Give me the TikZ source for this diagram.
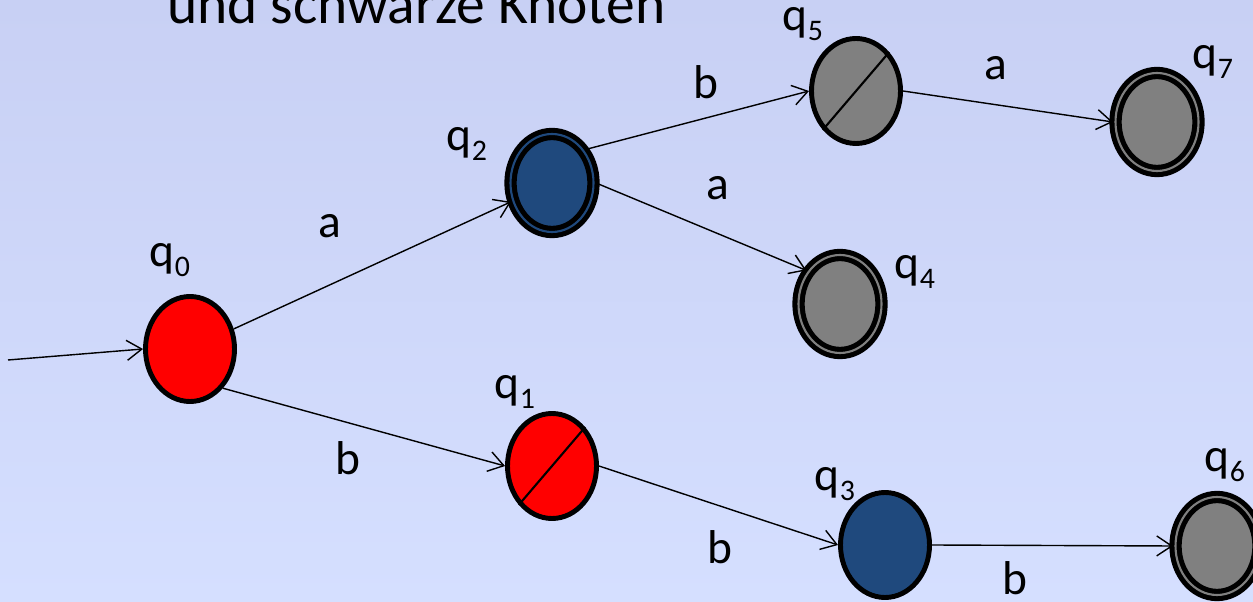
\documentclass[tikz,border=0pt]{standalone}
\usepackage{fontspec}
\setmainfont{Carlito}
\usepackage{xcolor}
\usepackage{tikz}
\usetikzlibrary{arrows.meta,shapes.geometric}
\definecolor{SlideTop}{RGB}{200,208,244}
\definecolor{SlideBottom}{RGB}{213,223,255}
\definecolor{StateRed}{RGB}{255,0,0}
\definecolor{StateBlue}{RGB}{31,73,125}
\definecolor{StateGray}{RGB}{128,128,128}
\newcommand{\StateName}[1]{q\raisebox{-6pt}{\fontsize{17}{20}\selectfont #1}}

\begin{document}
\begin{tikzpicture}[
  state/.style={ellipse,draw=black,line width=2.8pt,fill=#1,inner sep=0pt,
                minimum width=1.78cm,minimum height=2.1cm},
  final/.style={ellipse,draw=black,line width=2.9pt,double=#1,double distance=1.2pt,
                fill=#1,inner sep=0pt,minimum width=1.66cm,minimum height=1.96cm},
  trans/.style={draw=black,line width=0.8pt,-{Straight Barb[length=3mm,width=4mm]}},
  slash/.style={draw=black,line width=1.2pt},
  lbl/.style={font=\fontsize{27}{32}\selectfont,inner sep=0pt},
]
  \useasboundingbox (0,0) rectangle (25.06,12.04);
  \clip (0,0) rectangle (25.06,12.04);
  \shade[top color=SlideTop,bottom color=SlideBottom] (0,0) rectangle (25.06,12.04);

  \node[font=\fontsize{32.7}{39}\selectfont,anchor=base west,inner sep=0pt] (title)
    at (3.34,11.56) {und schwarze Knoten};

  % states
  \node[state=StateRed] (q0) at (3.80,5.06) {};
  \node[final=StateBlue] (q2) at (11.04,8.38) {};
  \node[state=StateRed] (q1) at (11.04,2.72) {};
  \node[state=StateGray] (q5) at (17.12,10.22) {};
  \node[final=StateGray] (q4) at (16.80,5.96) {};
  \node[final=StateGray] (q7) at (23.14,9.60) {};
  \node[state=StateBlue] (q3) at (17.70,1.14) {};
  \node[final=StateGray] (q6) at (24.34,1.12) {};
  \coordinate (start) at (0.16,4.84);

  \draw[slash] (q1.south west) -- (q1.north east);
  \draw[slash] (q5.south west) -- (q5.north east);

  % state names
  \node[lbl] (lq0) at (3.40,6.84) {\StateName{0}};
  \node[lbl] (lq1) at (10.30,4.20) {\StateName{1}};
  \node[lbl] (lq2) at (9.34,9.16) {\StateName{2}};
  \node[lbl] (lq3) at (16.70,2.36) {\StateName{3}};
  \node[lbl] (lq4) at (18.30,6.60) {\StateName{4}};
  \node[lbl] (lq5) at (16.06,11.56) {\StateName{5}};
  \node[lbl] (lq6) at (24.50,2.74) {\StateName{6}};
  \node[lbl] (lq7) at (24.26,10.80) {\StateName{7}};

  % transitions
  \draw[trans] (start) -- (q0.west);
  \draw[trans] (q0) -- (q2);
  \draw[trans] (q0.-50) -- (q1.west);
  \draw[trans] (q2.45) -- (q5.west);
  \draw[trans] (q2.east) -- (q4.135);
  \draw[trans] (q5.east) -- (q7.west);
  \draw[trans] (q1.east) -- (q3.west);
  \draw[trans] (q3.east) -- (q6.west);

  \node[lbl] (a02) at (6.60,7.52) {a};
  \node[lbl] (b25) at (14.12,10.40) {b};
  \node[lbl] (a24) at (14.36,8.28) {a};
  \node[lbl] (a57) at (19.92,10.68) {a};
  \node[lbl] (b01) at (6.96,2.88) {b};
  \node[lbl] (b13) at (14.40,1.10) {b};
  \node[lbl] (b36) at (20.30,0.48) {b};
\end{tikzpicture}
\end{document}
